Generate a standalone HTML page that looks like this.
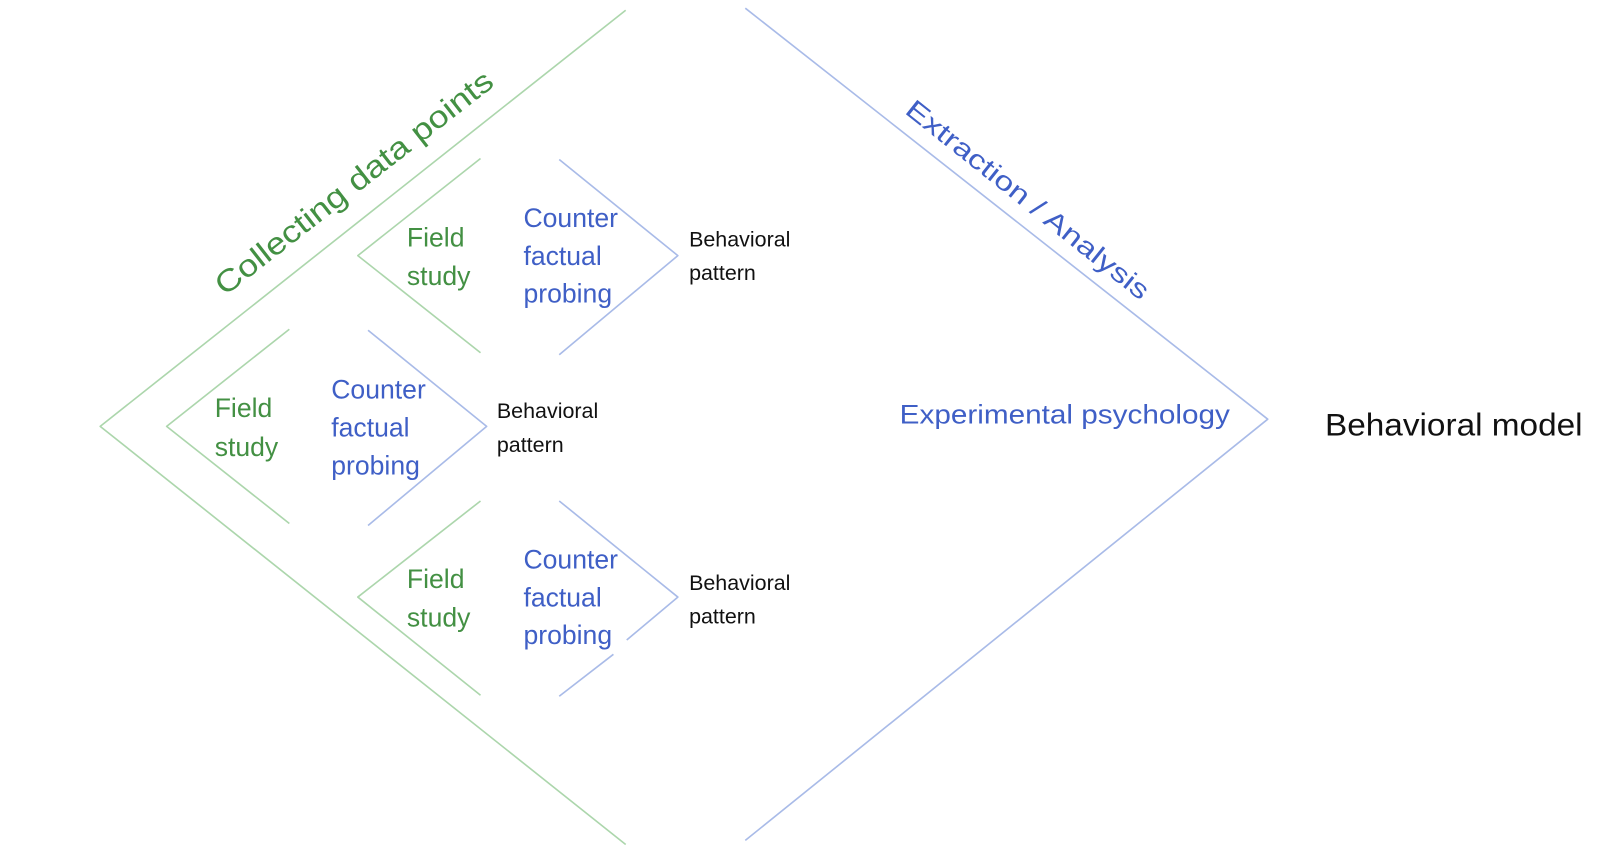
<!DOCTYPE html>
<html><head><meta charset="utf-8"><style>
html,body{margin:0;padding:0;background:#fff;}
svg{display:block;}
text{font-family:"Liberation Sans",sans-serif;}
.g{fill:#439043;font-size:26px;}
.b{fill:#3f5fc6;font-size:26px;}
.k{fill:#111;font-size:21px;}
</style></head><body>
<svg width="1600" height="854" viewBox="0 0 1565 835.3" xmlns="http://www.w3.org/2000/svg">
<g fill="none" stroke-width="1.6" stroke-linejoin="round">
<polyline points="612,10 98,417 612,826" stroke="#acd6ac"/>
<polyline points="729,8 1240,410 729,822" stroke="#a9bbe8"/>
<polyline points="470,155 350,250 470,345" stroke="#acd6ac"/>
<polyline points="547,156 663,250 547,347" stroke="#a9bbe8"/>
<polyline points="283,322 163,417 283,512" stroke="#acd6ac"/>
<polyline points="360,323 476,417 360,514" stroke="#a9bbe8"/>
<polyline points="470,490 350,584 470,680" stroke="#acd6ac"/>
<polyline points="547,490 663,584 613,626" stroke="#a9bbe8"/>
<line x1="600" y1="640" x2="547" y2="681" stroke="#a9bbe8"/>
</g>
<g>
<rect x="508" y="200" width="97" height="105" fill="#fff" opacity="0"/>
</g>
<text class="g" x="398" y="241">Field</text>
<text class="g" x="398" y="279">study</text>
<text class="b" x="512" y="222">Counter</text>
<text class="b" x="512" y="259">factual</text>
<text class="b" x="512" y="296">probing</text>
<text class="k" x="674" y="241">Behavioral</text>
<text class="k" x="674" y="274">pattern</text>

<text class="g" x="210" y="408">Field</text>
<text class="g" x="210" y="446">study</text>
<text class="b" x="324" y="390">Counter</text>
<text class="b" x="324" y="427">factual</text>
<text class="b" x="324" y="464">probing</text>
<text class="k" x="486" y="409">Behavioral</text>
<text class="k" x="486" y="442">pattern</text>

<text class="g" x="398" y="575">Field</text>
<text class="g" x="398" y="613">study</text>
<text class="b" x="512" y="556">Counter</text>
<text class="b" x="512" y="593">factual</text>
<text class="b" x="512" y="630">probing</text>
<text class="k" x="674" y="577">Behavioral</text>
<text class="k" x="674" y="610">pattern</text>

<text class="b" x="880" y="414" textLength="323" lengthAdjust="spacingAndGlyphs">Experimental psychology</text>
<text x="1296" y="426" fill="#111" font-size="31" textLength="252" lengthAdjust="spacingAndGlyphs">Behavioral model</text>

<text x="0" y="0" fill="#439043" font-size="30" textLength="336" lengthAdjust="spacingAndGlyphs" transform="translate(220,290) rotate(-38)">Collecting data points</text>
<text x="0" y="0" fill="#3f5fc6" font-size="26" textLength="296" lengthAdjust="spacingAndGlyphs" transform="translate(884,110) rotate(38.5)">Extraction / Analysis</text>
</svg>
</body></html>
